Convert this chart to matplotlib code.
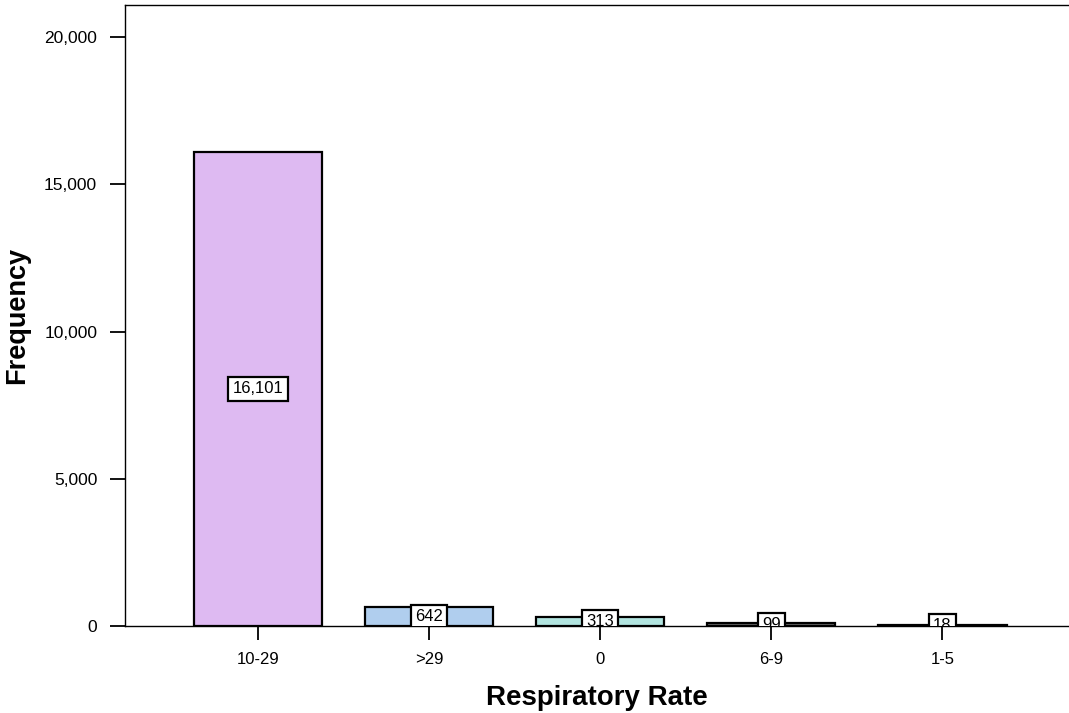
import matplotlib
matplotlib.use("Agg")
import matplotlib.pyplot as plt
from matplotlib.ticker import FuncFormatter

categories = ["10-29", ">29", "0", "6-9", "1-5"]
counts = [16101, 642, 313, 99, 18]
colors = ["#DEBAF2", "#B0CEEE", "#B2E5E0", "#6E6E6E", "#333333"]
yticks = [0, 5000, 10000, 15000, 20000]

plt.rcParams['font.family'] = ['Liberation Sans', 'DejaVu Sans']

fig = plt.figure(figsize=(10.69, 7.13), dpi=100)
ax = fig.add_axes([125/1069, 1-626/713, 1-125/1069, (626-5)/713])

x = list(range(len(categories)))
ax.bar(x, counts, width=0.75, color=colors, edgecolor="black", linewidth=1.6, zorder=2)

for xi, c in zip(x, counts):
    ax.text(xi, c/2, f"{c:,}", ha="center", va="center", fontsize=12, zorder=3,
            clip_on=True,
            bbox=dict(boxstyle="square,pad=0.26", facecolor="white", edgecolor="black", linewidth=1.6))

ax.set_xlim(-0.778, 4.74)
ax.set_ylim(0, 21087)
ax.set_xticks(x)
ax.set_xticklabels(categories, fontsize=12)
ax.set_yticks(yticks)
ax.yaxis.set_major_formatter(FuncFormatter(lambda v, p: f"{int(v):,}"))
ax.tick_params(axis="y", labelsize=12.5, length=11, width=1.3, direction="out", pad=9)
ax.tick_params(axis="x", labelsize=12, length=10, width=1.3, direction="out", pad=9)
for s in ["left", "top", "bottom"]:
    ax.spines[s].set_linewidth(1.0)
ax.spines["right"].set_visible(False)

ax.set_xlabel("Respiratory Rate", fontsize=20, fontweight="bold", labelpad=13)
ax.set_ylabel("Frequency", fontsize=19.5, fontweight="bold", labelpad=10)

fig.savefig("out.png", dpi=100)
